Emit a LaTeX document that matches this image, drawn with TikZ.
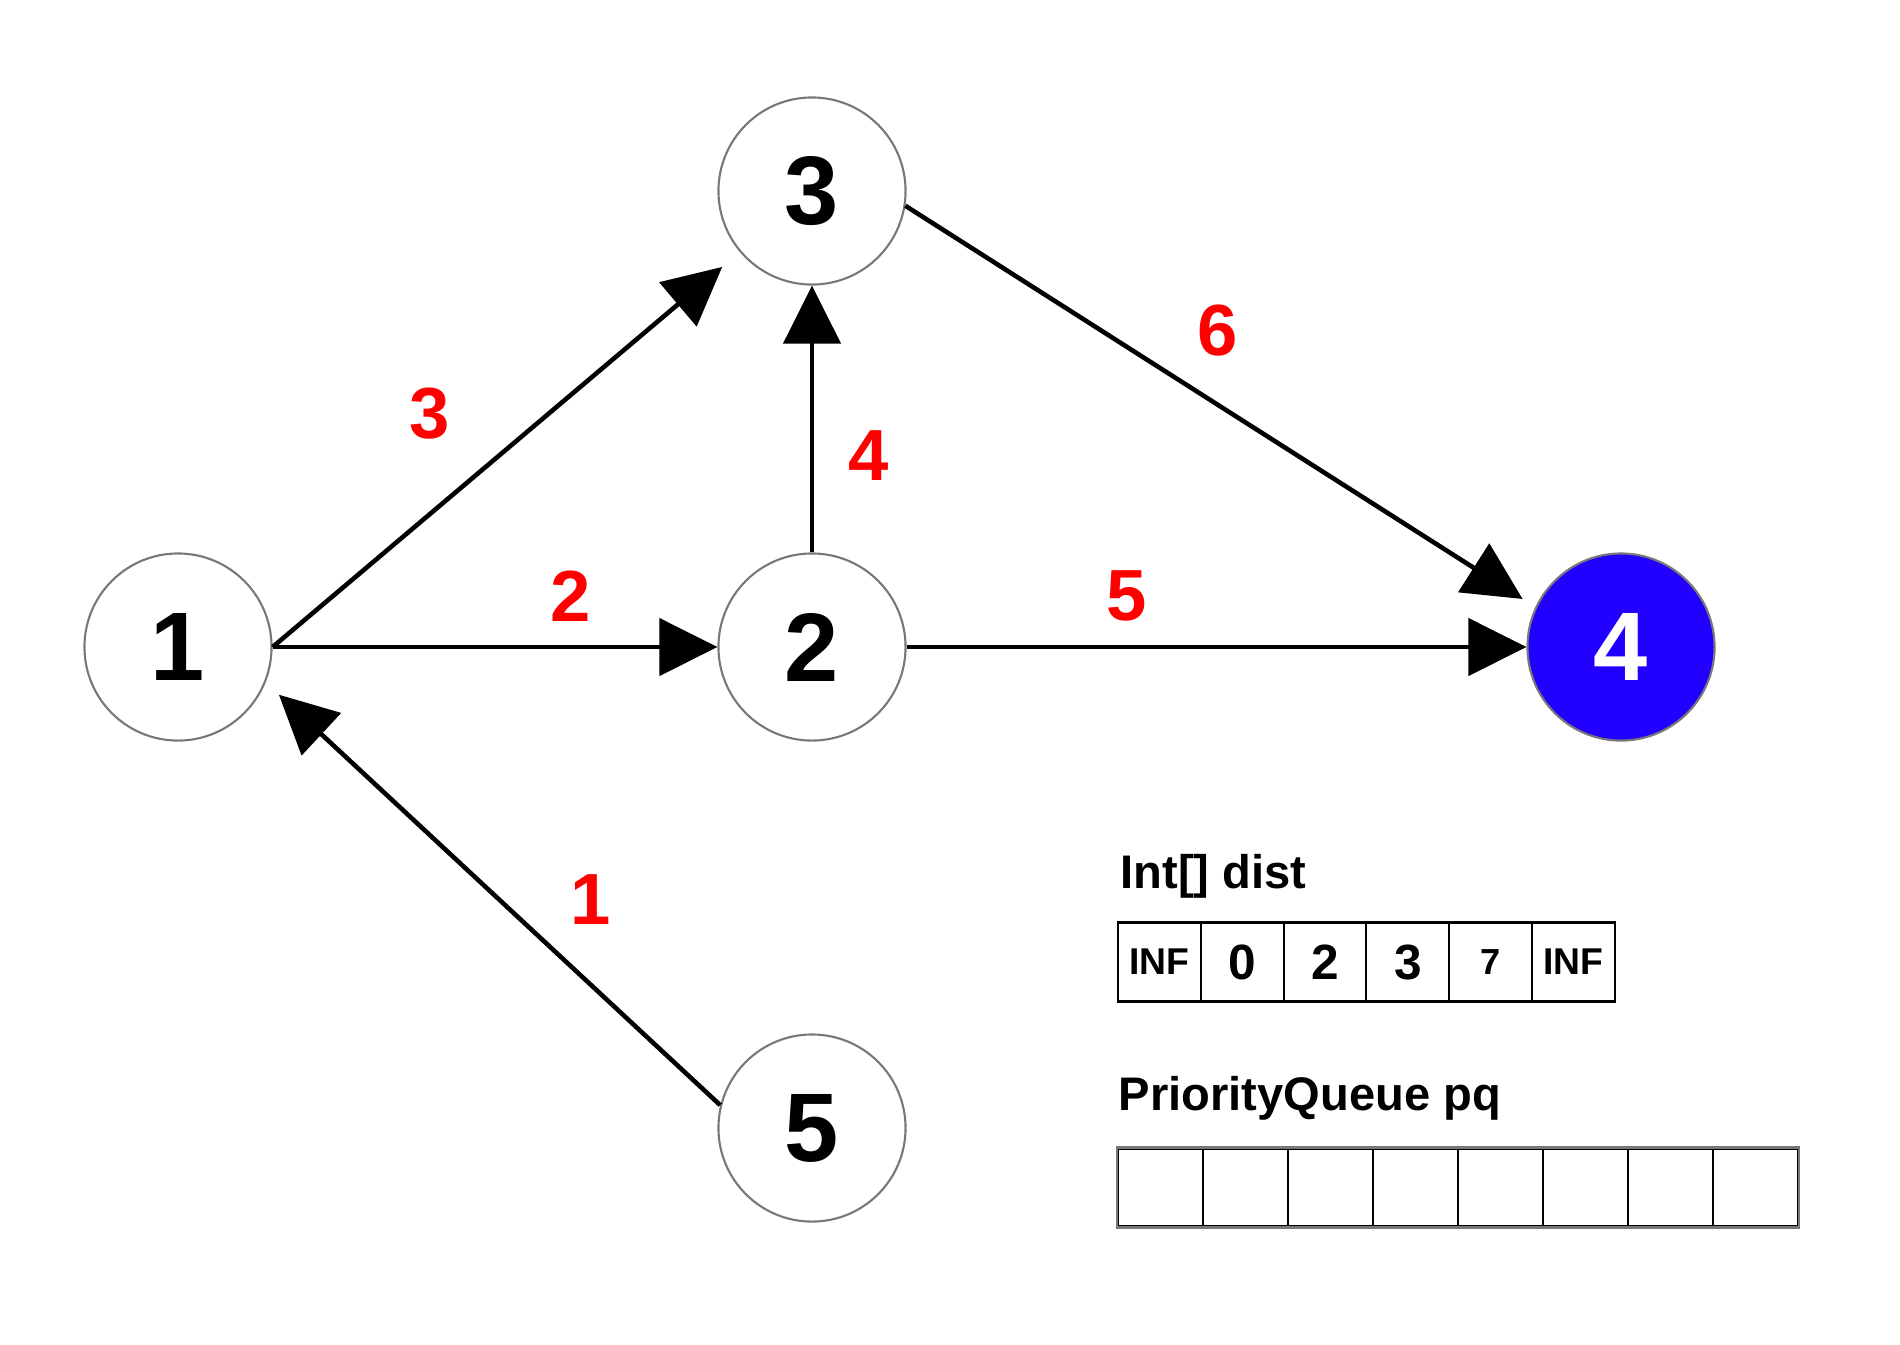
\documentclass[tikz,border=0pt]{standalone}
\usepackage{fontspec}
\setmainfont{Liberation Sans}
\usetikzlibrary{arrows.meta}

\definecolor{vblue}{RGB}{34,0,255}
\definecolor{ringgray}{RGB}{120,120,120}

\begin{document}
\begin{tikzpicture}[
  x=0.01cm, y=-0.01cm,
  vtx/.style={draw=ringgray, line width=0.6pt, circle, minimum size=1.87cm, inner sep=0pt, fill=white, font=\fontsize{27.7}{30}\selectfont\bfseries},
  wt/.style={text=red, inner sep=0pt, font=\fontsize{20.6}{24}\selectfont\bfseries},
  arr/.style={-{Triangle[length=0.58cm, width=0.57cm]}, line width=1.3pt},
  ttl/.style={anchor=base west, inner sep=0pt, font=\fontsize{13.4}{16}\selectfont\bfseries},
  dcell/.style={draw, line width=0.6pt, minimum width=0.828cm, minimum height=0.79cm, inner sep=0pt},
  pcell/.style={draw, line width=0.6pt, minimum width=0.85cm, minimum height=0.78cm, inner sep=0pt},
]
\useasboundingbox (0,0) rectangle (1900,1344);

% --- Vertices ---
\node[vtx] (n1) at (178,647) {1};
\node[vtx] (n2) at (812,647) {2};
\node[vtx] (n3) at (812,191) {3};
\node[vtx, fill=vblue, text=white] (n4) at (1621,647) {4};
\node[vtx] (n5) at (812,1128) {5};

% --- Weights ---
\node[wt] (w13) at (430,414) {3};
\node[wt] (w12) at (571,596) {2};
\node[wt] (w23) at (869,456) {4};
\node[wt] (w34) at (1218,331) {6};
\node[wt] (w24) at (1127,596) {5};
\node[wt] (w51) at (591,900) {1};

% --- Edges ---
\draw[arr, shorten >=0.23cm] (n1.east) -- (n3);
\draw[arr] (n1.east) -- (n2.west);
\draw[arr] (n2.north) -- (n3.south);
\draw[arr, shorten >=0.15cm] (n3.-9) -- (n4.155);
\draw[arr] (n2.east) -- (n4.west);
\draw[arr, shorten >=0.18cm] (n5.166) -- (n1.-22);

% --- dist array ---
\node[ttl] (distttl) at (1120,888) {Int[] dist};
\foreach \v/\s [count=\i] in {INF/10.6,0/14.1,2/14.1,3/14.1,7/10.3,INF/10.6}
  \node[dcell, font=\fontsize{\s}{\s}\selectfont\bfseries] (d\i) at ({1118+82.8*(\i-0.5)},962) {\v};

% --- priority queue ---
\node[ttl] (pqttl) at (1118,1110) {PriorityQueue pq};
\foreach \i in {1,...,8}
  \node[pcell] (p\i) at ({1118+85*(\i-0.5)},1187.5) {};
\draw[draw=ringgray, line width=0.7pt] (p1.north west) rectangle (p8.south east);
\end{tikzpicture}
\end{document}
